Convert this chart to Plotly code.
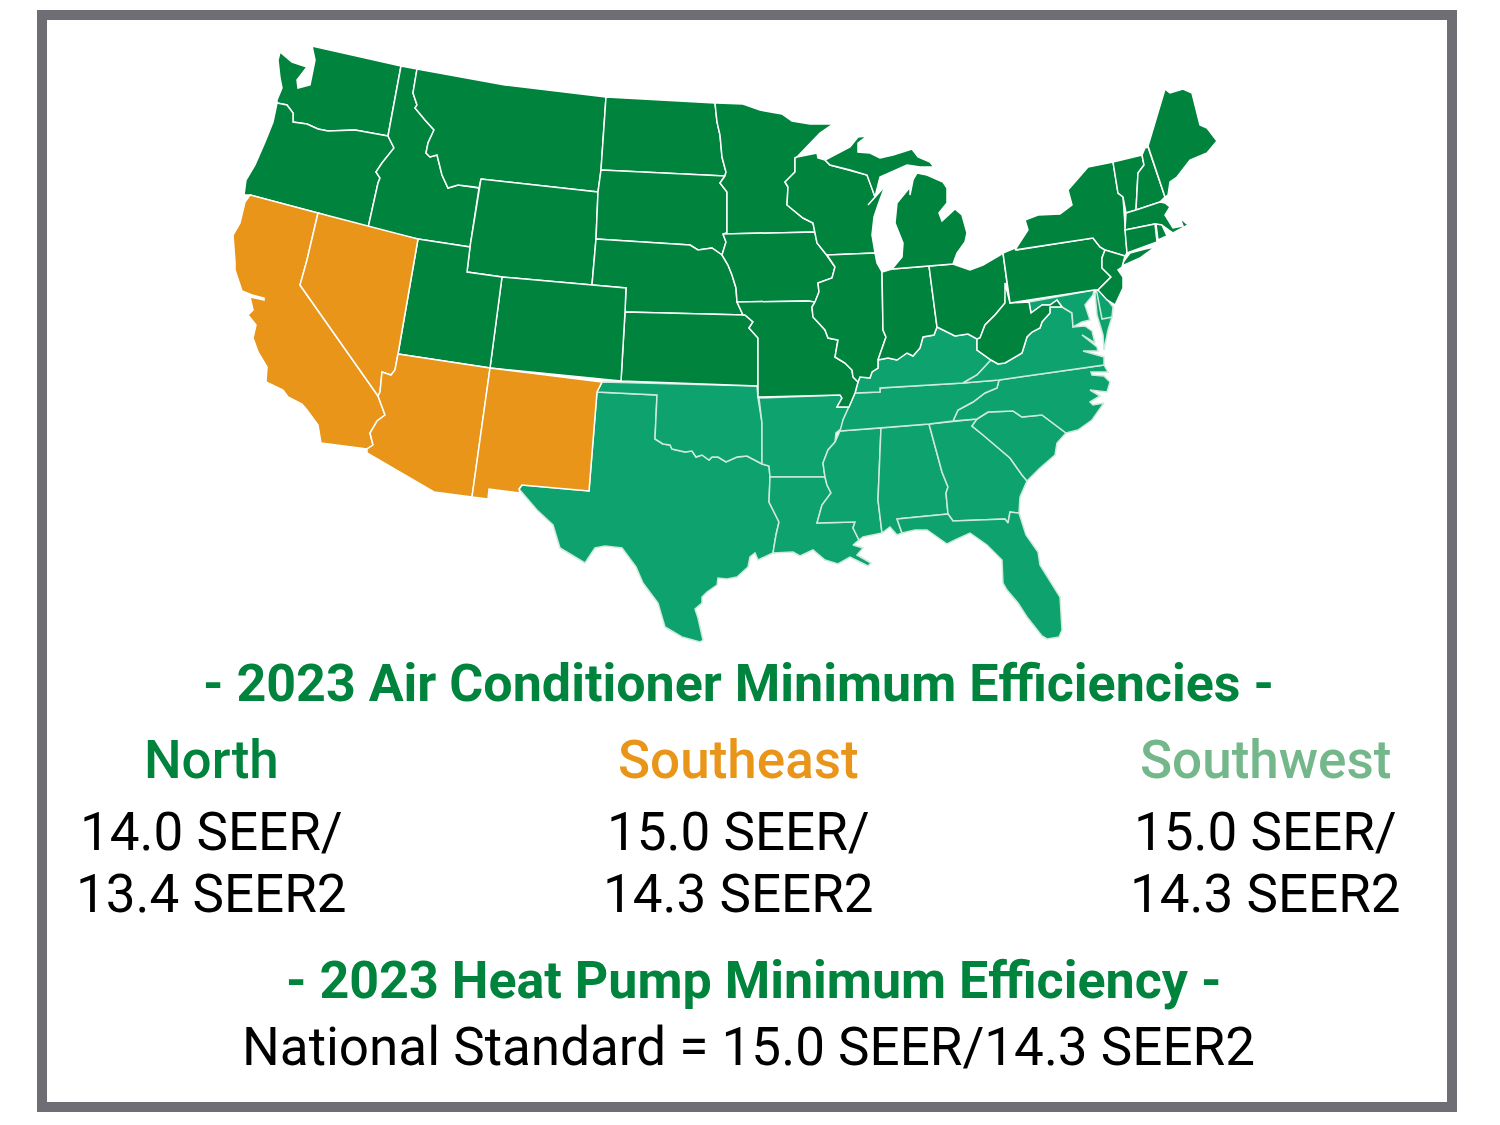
import plotly.graph_objects as go

WA_OR = [(277,103),(287,105),(293,113),(293,122),(307,124),(318,129),(328,131),(355,130),(388,136)]
WA_ID = [(388,136),(390,125),(401,66)]
OR_ID = [(368,228),(378,183),(380,178),(376,172),(382,163),(394,148),(388,136)]
ID_MT = [(417,69),(413,93),(417,105),(415,108),(425,120),(434,130),(428,143),(426,153),(430,157),(437,155),(442,175),(448,188),(458,185),(475,187),(479,188)]
ND_MN = [(715,103),(717,122),(720,135),(722,157),(726,172),(725,176)]
SD_MN = [(725,176),(720,183),(727,192),(727,233)]
SD_IA = [(727,233),(723,234),(726,242),(722,255)]
SD_NE = [(596,239),(690,245),(698,250),(712,248),(722,255)]
NE_IA = [(722,255),(728,265),(732,275),(736,288),(737,302)]
NE_MO = [(737,302),(743,315)]
KS_MO = [(745,315),(753,322),(749,328),(758,338),(758,386)]
MN_WI = [(795,158),(795,172),(785,182),(788,187),(787,205),(803,218),(813,223),(815,232)]
IA_IL = [(815,232),(817,243),(825,253),(827,255),(835,267),(832,278),(818,283),(819,292),(815,302)]
IL_MO = [(815,302),(812,307),(813,317),(825,330),(828,338),(838,340),(835,357),(845,363),(852,370),(853,377),(858,382)]
IL_IN = [(882,272),(883,330),(886,337),(878,360)]
IL_KY = [(878,360),(878,368),(872,372),(870,378),(860,377),(858,382)]
IN_KY = [(878,360),(888,358),(897,360),(907,353),(913,356),(920,348),(923,337),(934,335),(937,327)]
OH_KY = [(937,327),(943,330),(955,336),(968,334),(977,339)]
OH_WV = [(977,339),(980,338),(985,325),(995,315),(1005,303),(1005,283)]
WV_KY = [(977,339),(977,350),(991,360)]
WV_VA = [(991,360),(998,364),(1005,363),(1022,353),(1027,337),(1032,332),(1040,328),(1042,322),(1050,313),(1050,307),(1062,307)]
WV_MD = [(1062,307),(1057,300),(1050,305),(1042,305),(1031,313),(1029,302)]
NM_TX = [(597,392),(589,491),(522,485)]
TX_OK = [(655,439),(663,444),(670,445),(672,449),(685,452),(692,451),(696,457),(702,455),(709,460),(712,457),(718,457),(726,462),(737,457),(747,456),(762,464)]
TX_LA = [(769,466),(770,477),(769,502),(779,522),(776,535),(773,553)]
MS_RIVER = [(849,407),(843,420),(842,428),(836,433),(835,442),(828,450),(823,463),(825,477)]
LA_MS = [(825,477),(827,485),(831,493),(822,505),(817,523),(855,522),(853,528),(859,540)]
MS_AL = [(881,428),(878,500),(882,533)]
AL_GA = [(929,424),(942,472),(948,487),(946,493),(948,514)]
GA_SC = [(977,419),(972,426),(983,435),(1010,458),(1022,475),(1027,481)]
NC_TN = [(999,380),(997,388),(985,393),(973,402),(958,410),(953,421)]
NY_PA = [(1017,250),(1093,238),(1100,247),(1105,250)]
NY_VT = [(1113,162),(1118,193),(1123,197),(1125,230)]
VT_NH = [(1142,155),(1144,165),(1138,173),(1136,210)]
NJ_PA = [(1105,250),(1102,258),(1102,268),(1111,277),(1098,290)]

WA = [(280,52),(278,60),(280,78),(282,88),(277,100)] + WA_OR + WA_ID + [(312,46),(315,60),(313,70),(310,85),(298,88),(297,80),(307,67),(292,62)]
OR = [(277,103),(273,122),(265,142),(255,165),(246,180),(244,195),(250,195),(318,213)] + OR_ID + WA_OR[::-1]
ID = WA_ID + ID_MT + [(470,247),(418,239)] + OR_ID
MT = [(417,69),(505,85),(606,97),(601,170),(598,192),(481,179)] + ID_MT[::-1]
WY = [(481,179),(598,192),(596,239),(592,285),(502,277),(467,272),(470,247),(479,188)]
ND = [(606,97)] + ND_MN + [(601,170)]
SD = [(601,170)] + ND_MN[-1:] + SD_MN + SD_IA + SD_NE[::-1] + [(598,192)]
NE = SD_NE + NE_IA + NE_MO + [(745,315),(625,312),(626,288),(592,285)]
KS = [(625,312)] + KS_MO + [(621,381)]
CO = [(502,277),(592,285),(626,288),(625,312),(621,381),(490,368)]
UT = [(418,239),(470,247),(467,272),(502,277),(490,368),(398,354)]
NV = [(318,213),(418,239),(398,354),(395,370),(391,375),(382,372),(380,392),(378,396),(300,285),(307,260)]
CA = [(250,195),(318,213),(307,260),(300,285),(378,396),(385,415),(377,421),(370,433),(373,445),(367,449),(321,443),(318,425),(307,410),(302,404),(288,397),(283,390),(266,382),(267,367),(258,352),(253,338),(256,325),(248,315),(253,310),(250,297),(264,300),(264,298),(252,295),(242,291),(235,270),(235,262),(233,235),(240,223),(245,202)]
AZ = [(398,354),(490,368),(472,497),(434,492),(367,453),(367,449),(373,445),(370,433),(377,421),(385,415),(378,396),(380,392),(382,372),(391,375),(395,370)]
NM = [(490,368),(602,382),(597,392),(589,491),(522,485),(519,489),(520,493),(505,491),(489,489),(488,499),(472,497)]
TX = NM_TX + [(519,489),(537,510),(553,525),(560,548),(585,563),(595,548),(605,546),(622,548),(636,567),(643,583),(658,603),(665,627),(682,637),(700,642),(703,640),(698,618),(695,609),(702,603),(702,597),(707,592),(717,585),(718,578),(727,579),(737,577),(748,567),(750,557),(755,553),(758,560)] + TX_LA[::-1] + TX_OK[::-1] + [(657,395)]
OK = [(602,382),(757,386),(758,398),(762,423),(762,464)] + TX_OK[::-1] + [(657,395),(597,392)]
MN = [(717,103),(743,104),(760,110),(782,114),(792,121),(810,124),(833,124),(820,133),(797,157)] + MN_WI + [(723,234)] + SD_MN[::-1] + ND_MN[::-1]
IA = SD_IA[1:] + NE_IA + [(808,301),(815,302)] + IA_IL[::-1] + [(723,234)]
MO = NE_MO + KS_MO[:-1] + [(758,397),(840,395),(842,398),(837,407),(849,407),(853,398),(855,393),(858,382)] + IL_MO[::-1] + [(808,301)]
AR = [(759,398),(840,395),(842,398),(837,407)] + MS_RIVER + [(770,477),(769,466),(762,464),(762,423)]
LA = [(770,477)] + LA_MS + [(853,545),(863,548),(857,555),(871,563),(868,566),(850,557),(838,564),(825,560),(813,550),(800,556),(793,552)] + TX_LA[::-1][:4]
MS = [(840,431),(881,428)] + MS_AL[1:] + [(863,537)] + LA_MS[::-1] + MS_RIVER[4:][::-1]
AL = [(881,428)] + AL_GA + [(897,519),(900,528),(902,533),(897,535),(890,527),(882,533),(878,500)]
GA = AL_GA + [(953,521),(1005,519),(1008,523),(1010,512),(1019,513),(1020,497)] + GA_SC[::-1]
FL = [(897,519),(948,514),(953,521),(1005,519),(1008,523),(1010,512),(1019,513),(1026,535),(1038,552),(1040,565),(1060,597),(1062,630),(1059,637),(1047,639),(1042,636),(1027,617),(1018,603),(1007,590),(1003,583),(1002,560),(987,545),(970,533),(955,540),(947,544),(927,530),(915,530),(902,533),(900,528)]
SC = GA_SC[:1] + [(988,412),(1013,411),(1022,417),(1042,415),(1066,433),(1057,443),(1055,455),(1040,468)] + GA_SC[::-1][:-1]
NC = NC_TN[::-1] + [(1104,365),(1108,372),(1091,372),(1092,375),(1104,376),(1110,382),(1107,392),(1090,390),(1100,396),(1090,402),(1093,405),(1104,403),(1092,420),(1078,430),(1066,433),(1042,415),(1022,417),(1013,411),(988,412),(977,419)]
TN = [(855,393),(880,392),(880,388),(963,383),(999,380)] + NC_TN + [(929,424),(881,428),(840,431),(843,420),(849,407),(853,398)]
KY = [(858,382),(855,393),(880,392),(880,388),(963,383),(977,375),(991,360)] + WV_KY[::-1][1:] + OH_KY[::-1] + IN_KY[::-1] + IL_KY
VA = [(963,383),(977,375)] + WV_VA + [(1072,313),(1073,327),(1085,326),(1092,331),(1095,343),(1082,335),(1097,347),(1098,351),(1083,351),(1097,355),(1104,357),(1104,365),(999,380)]
WV = WV_KY + WV_VA + WV_MD + [(1010,303),(1005,283),(1005,303)] + OH_WV[::-1][2:]
MD = [(1029,302),(1094,290),(1093,295),(1085,305),(1090,320),(1082,322),(1073,327),(1072,313),(1062,307),(1057,300),(1050,305),(1042,305),(1031,313)]
DELMARVA = [(1095,293),(1101,291),(1113,307),(1112,317),(1108,330),(1104,350),(1103,335),(1097,315)]
DE = [(1096,288),(1101,291),(1113,307),(1112,317),(1102,319)]
PA = [(1003,253),(1015,248)] + NY_PA + NJ_PA + [(1094,290),(1010,303)]
NJ = NJ_PA + [(1107,300),(1115,305),(1123,288),(1123,277),(1118,270),(1122,267),(1125,256)]
NY = [(1015,250),(1028,230),(1025,220),(1038,215),(1060,214),(1072,205),(1068,190),(1088,167)] + NY_VT + [(1127,253),(1125,256),(1105,250),(1100,247),(1093,238)]
LONG_ISLAND = [(1122,266),(1140,258),(1155,247),(1145,249),(1130,253),(1124,261)]
VT = NY_VT[:1] + VT_NH + [(1126,213),(1125,230)][:1] + NY_VT[::-1][1:-1]
NH = [(1142,155),(1145,148),(1148,147),(1165,197),(1160,202),(1136,210)] + VT_NH[::-1][1:]
ME = [(1148,146),(1158,112),(1165,89),(1170,93),(1183,89),(1192,93),(1200,125),(1207,128),(1217,141),(1207,153),(1190,160),(1177,177),(1170,182),(1168,195),(1165,197)]
MA = [(1126,213),(1136,210),(1160,202),(1165,203),(1170,207),(1165,215),(1173,228),(1183,226),(1180,218),(1188,225),(1173,233),(1163,226),(1155,224),(1125,230)]
CT = [(1125,230),(1155,224),(1157,242),(1127,253)]
RI = [(1156,224),(1162,225),(1167,236),(1158,240)]
OH = [(929,266),(953,264),(970,270),(983,265),(1000,255),(1003,253),(1007,283)] + OH_WV[::-1][1:] + OH_KY[::-1] + [(937,327)]
IN = [(882,272),(892,269),(929,266),(937,327)] + IN_KY[::-1] + IL_IN[::-1][:-1]
IL = [(827,255),(875,253),(877,263),(882,272)] + IL_IN + IL_KY + IL_MO[::-1] + IA_IL[::-1][:6]
WI = [(797,157),(817,153),(818,158),(825,160),(830,165),(850,170),(867,175),(872,188),(875,197),(868,205),(885,186),(878,205),(874,217),(872,235),(875,253),(827,255),(825,253),(817,243)] + MN_WI[::-1]
MI_UPPER = [(825,160),(835,155),(850,147),(858,137),(867,136),(858,143),(858,152),(870,153),(880,158),(893,155),(912,149),(918,157),(930,162),(934,167),(920,167),(907,165),(890,173),(880,177),(875,197),(872,188),(867,175),(850,170),(830,165)]
MI_LOWER = [(917,173),(927,175),(943,182),(947,188),(947,203),(939,213),(942,221),(955,209),(962,215),(967,233),(965,242),(957,253),(953,264),(929,266),(892,269),(902,257),(903,243),(895,223),(897,203),(910,187),(910,195),(913,180)]

north_states = [WA,OR,ID,MT,WY,ND,SD,NE,KS,CO,UT,MN,IA,MO,WI,IL,IN,OH,MI_UPPER,MI_LOWER,WV,PA,NY,LONG_ISLAND,NJ,VT,NH,ME,MA,CT,RI]
west_states = [CA,NV,AZ,NM]
south_states = [TX,OK,AR,LA,MS,AL,GA,FL,SC,NC,TN,KY,VA,MD,DELMARVA,DE]

regions = ["North", "Southeast", "Southwest"]
region_colors = ["#00843d", "#e8951a", "#74b78a"]
seer_lines = ["14.0 SEER/", "15.0 SEER/", "15.0 SEER/"]
seer2_lines = ["13.4 SEER2", "14.3 SEER2", "14.3 SEER2"]
label_x = [211, 738, 1265]

fig = go.Figure()

def add_states(states, color, edge):
    for pts in states:
        fig.add_trace(go.Scatter(
            x=[p[0] for p in pts] + [pts[0][0]],
            y=[p[1] for p in pts] + [pts[0][1]],
            mode="lines", fill="toself", fillcolor=color,
            line=dict(color=edge, width=1.5), hoverinfo="skip", showlegend=False,
        ))

add_states(south_states, "#0ea36e", "#cfe9dc")
add_states(north_states, "#00843d", "white")
add_states(west_states, "#e8951a", "white")

def add_text(x, y, text, size, color="black", weight=400):
    fig.add_annotation(x=x, y=y, text=text, showarrow=False, xanchor="center", yanchor="middle",
                       font=dict(family="Roboto", size=size, color=color, weight=weight))

add_text(738, 683, "- 2023 Air Conditioner Minimum Efficiencies -", 52, "#00843d", 700)
for name, col, seer, seer2, lx in zip(regions, region_colors, seer_lines, seer2_lines, label_x):
    add_text(lx, 760, name, 53, col, 500)
    add_text(lx, 832, seer, 53)
    add_text(lx, 894, seer2, 53)
add_text(753, 980, "- 2023 Heat Pump Minimum Efficiency -", 52, "#00843d", 700)
add_text(748, 1047, "National Standard = 15.0 SEER/14.3 SEER2", 53)

fig.add_shape(type="rect", x0=42, y0=15, x1=1452, y1=1107, line=dict(color="#6f6e75", width=10))

# page body has an 8px margin, so the plot starts at (8,8)
fig.update_layout(
    width=1492, height=1117,
    margin=dict(l=0, r=0, t=0, b=0),
    paper_bgcolor="white", plot_bgcolor="white",
    xaxis=dict(range=[8, 1500], visible=False, fixedrange=True),
    yaxis=dict(range=[1125, 8], visible=False, fixedrange=True),
)
fig.write_html("out.html")
